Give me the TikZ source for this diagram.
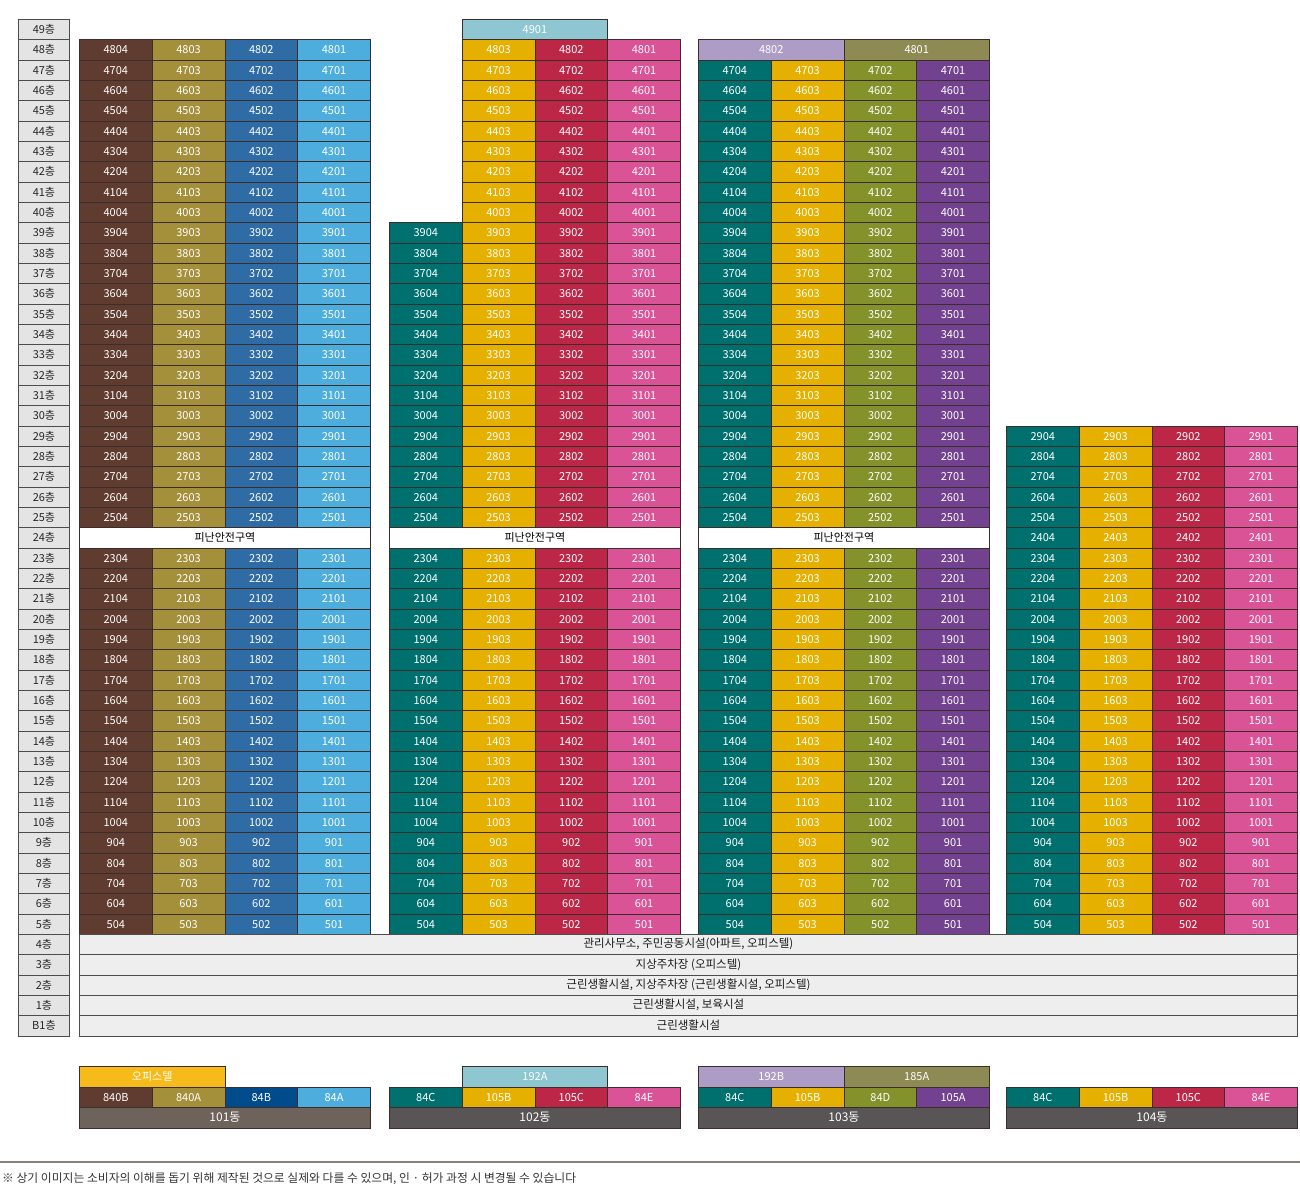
\documentclass[tikz,border=0pt]{standalone}
\usepackage{fontspec}
\setmainfont{Noto Sans CJK KR}
\definecolor{cBrown}{HTML}{5F3C2F}
\definecolor{cOlive}{HTML}{A48F3B}
\definecolor{cBlue}{HTML}{2F6CA5}
\definecolor{cLblue}{HTML}{4DAEDD}
\definecolor{cTeal}{HTML}{00706F}
\definecolor{cYellow}{HTML}{E5B000}
\definecolor{cCrimson}{HTML}{BC2748}
\definecolor{cPink}{HTML}{DA5397}
\definecolor{cOgreen}{HTML}{84922C}
\definecolor{cPurple}{HTML}{724290}
\definecolor{cSky}{HTML}{8EC6D1}
\definecolor{cLav}{HTML}{AD9CC6}
\definecolor{cOltwo}{HTML}{8D8A54}
\definecolor{cNavy}{HTML}{004B8C}
\definecolor{cOffi}{HTML}{F6BB1B}
\definecolor{cBarA}{HTML}{6E635B}
\definecolor{cBar}{HTML}{595557}
\definecolor{cLine}{HTML}{3A2D2A}
\definecolor{cFloor}{HTML}{E4E4E4}
\definecolor{cLow}{HTML}{EEEEEE}
\definecolor{cFoot}{HTML}{8B8079}
\begin{document}
\begin{tikzpicture}[x=1pt,y=-1pt,
  cellbox/.style={draw=cLine, line width=0.9pt, inner sep=0pt, anchor=north west,
    minimum width=72.75pt, minimum height=20.33pt, text=white,
    font=\fontsize{11}{11}\selectfont, text height=8pt, text depth=0pt},
  widebox/.style={cellbox, minimum width=145.5pt},
  refuge/.style={cellbox, fill=white, text=black, minimum width=291pt},
  floorbox/.style={draw=black!70, line width=0.9pt, fill=cFloor, inner sep=0pt, anchor=north west,
    minimum width=51pt, minimum height=20.33pt, text=black!85,
    font=\fontsize{11}{11}\selectfont, text height=8pt, text depth=0pt},
  lowbox/.style={draw=black!70, line width=0.9pt, fill=cLow, inner sep=0pt, anchor=north west,
    minimum width=1218pt, minimum height=20.33pt, text=black!90,
    font=\fontsize{11.5}{11.5}\selectfont, text height=8pt, text depth=1pt},
  legbox/.style={cellbox, minimum height=20.5pt},
  legwide/.style={legbox, minimum width=145.5pt},
  barbox/.style={legbox, minimum width=291pt, font=\fontsize{12}{12}\selectfont, text height=9pt, text depth=1pt}
]
\path[use as bounding box] (0,0) rectangle (1300,1186);
% floor labels
\foreach \i in {0,...,48}{
  \pgfmathtruncatemacro\fl{49-\i}
  \node[floorbox] (fl\fl) at (18,{19+20.33*\i}) {\fl 층};
}
\node[floorbox] (flB1) at (18,{19+20.33*49}) {B1층};
% building 101
\foreach \f in {5,...,48}{
  \pgfmathsetmacro\yy{19+20.33*(49-\f)}
  \ifnum\f=24\relax\else
    \foreach \c/\col in {0/cBrown,1/cOlive,2/cBlue,3/cLblue}{
      \pgfmathtruncatemacro\num{\f*100+4-\c}
      \node[cellbox, fill=\col] (a\num) at ({79+72.75*\c},\yy) {\num};
    }
  \fi
}
\node[refuge] (ra) at (79,{19+20.33*25}) {피난안전구역};
% building 102
\foreach \f in {5,...,48}{
  \pgfmathsetmacro\yy{19+20.33*(49-\f)}
  \ifnum\f=24\relax\else
    \foreach \c/\col in {1/cYellow,2/cCrimson,3/cPink}{
      \pgfmathtruncatemacro\num{\f*100+4-\c}
      \node[cellbox, fill=\col] (b\num) at ({389+72.75*\c},\yy) {\num};
    }
    \ifnum\f<40
      \pgfmathtruncatemacro\num{\f*100+4}
      \node[cellbox, fill=cTeal] (b\num) at (389,\yy) {\num};
    \fi
  \fi
}
\node[widebox, fill=cSky] (b4901) at (461.75,19) {4901};
\node[refuge] (rb) at (389,{19+20.33*25}) {피난안전구역};
% building 103
\foreach \f in {5,...,47}{
  \pgfmathsetmacro\yy{19+20.33*(49-\f)}
  \ifnum\f=24\relax\else
    \foreach \c/\col in {0/cTeal,1/cYellow,2/cOgreen,3/cPurple}{
      \pgfmathtruncatemacro\num{\f*100+4-\c}
      \node[cellbox, fill=\col] (c\num) at ({698+72.75*\c},\yy) {\num};
    }
  \fi
}
\node[widebox, fill=cLav] (c4802) at (698,{19+20.33}) {4802};
\node[widebox, fill=cOltwo] (c4801) at (843.5,{19+20.33}) {4801};
\node[refuge] (rc) at (698,{19+20.33*25}) {피난안전구역};
% building 104
\foreach \f in {5,...,29}{
  \pgfmathsetmacro\yy{19+20.33*(49-\f)}
  \foreach \c/\col in {0/cTeal,1/cYellow,2/cCrimson,3/cPink}{
    \pgfmathtruncatemacro\num{\f*100+4-\c}
    \node[cellbox, fill=\col] (d\num) at ({1006+72.75*\c},\yy) {\num};
  }
}
% low floors
\node[lowbox] (low4) at (79,{19+20.33*45}) {관리사무소, 주민공동시설(아파트, 오피스텔)};
\node[lowbox] (low3) at (79,{19+20.33*46}) {지상주차장 (오피스텔)};
\node[lowbox] (low2) at (79,{19+20.33*47}) {근린생활시설, 지상주차장 (근린생활시설, 오피스텔)};
\node[lowbox] (low1) at (79,{19+20.33*48}) {근린생활시설, 보육시설};
\node[lowbox] (lowB) at (79,{19+20.33*49}) {근린생활시설};
% legend 101
\node[legwide, fill=cOffi] (lg1t) at (79,1066) {오피스텔};
\foreach \c/\col/\t in {0/cBrown/840B,1/cOlive/840A,2/cNavy/84B,3/cLblue/84A}{
  \node[legbox, fill=\col] (lg1\c) at ({79+72.75*\c},1086.5) {\t};
}
\node[barbox, fill=cBarA] (bar1) at (79,1107) {101동};
% legend 102
\node[legwide, fill=cSky] (lg2t) at (461.75,1066) {192A};
\foreach \c/\col/\t in {0/cTeal/84C,1/cYellow/105B,2/cCrimson/105C,3/cPink/84E}{
  \node[legbox, fill=\col] (lg2\c) at ({389+72.75*\c},1086.5) {\t};
}
\node[barbox, fill=cBar] (bar2) at (389,1107) {102동};
% legend 103
\node[legwide, fill=cLav] (lg3a) at (698,1066) {192B};
\node[legwide, fill=cOltwo] (lg3b) at (843.5,1066) {185A};
\foreach \c/\col/\t in {0/cTeal/84C,1/cYellow/105B,2/cOgreen/84D,3/cPurple/105A}{
  \node[legbox, fill=\col] (lg3\c) at ({698+72.75*\c},1086.5) {\t};
}
\node[barbox, fill=cBar] (bar3) at (698,1107) {103동};
% legend 104
\foreach \c/\col/\t in {0/cTeal/84C,1/cYellow/105B,2/cCrimson/105C,3/cPink/84E}{
  \node[legbox, fill=\col] (lg4\c) at ({1006+72.75*\c},1086.5) {\t};
}
\node[barbox, fill=cBar] (bar4) at (1006,1107) {104동};
% footer
\coordinate (fl) at (0,1162);
\coordinate (fr) at (1300,1162);
\draw[cFoot, line width=1.5pt] (fl) -- (fr);
\node[anchor=west, inner sep=0pt, text=black!80, font=\fontsize{11.8}{11.8}\selectfont] (note) at (2,1179)
  {※ 상기 이미지는 소비자의 이해를 돕기 위해 제작된 것으로 실제와 다를 수 있으며, 인 · 허가 과정 시 변경될 수 있습니다};
\end{tikzpicture}
\end{document}
